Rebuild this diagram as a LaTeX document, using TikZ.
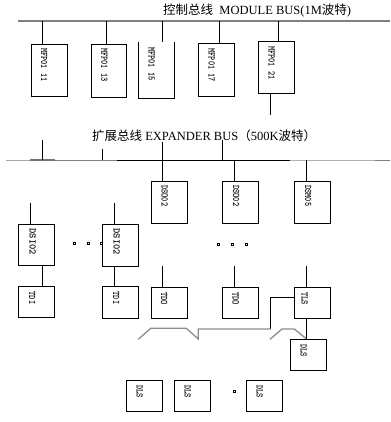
\documentclass[tikz,border=0pt]{standalone}
\usepackage{fontspec}
\setmainfont{Liberation Serif}
\newfontfamily\cjk{Noto Sans CJK SC}
\newfontfamily\lblfont{Liberation Mono}
\usetikzlibrary{calc}
\begin{document}
\begin{tikzpicture}[x=1pt,y=-1pt,
  box/.style={draw,line width=0.8pt,minimum width=36pt,inner sep=0pt,anchor=north west},
  obox/.style={minimum width=36pt,inner sep=0pt,anchor=north west},
  lbl/.style={rotate=-90,anchor=west,inner sep=0pt,font=\ttfamily\bfseries\fontsize{10}{10}\selectfont},
  wire/.style={line width=0.8pt},
  gbus/.style={draw=gray,line width=1.8pt},
  gwire/.style={draw=gray!90,line width=1.3pt},
  dot/.style={draw,line width=0.7pt,minimum size=2.2pt,inner sep=0pt},
  title/.style={anchor=west,inner sep=0pt,font=\fontsize{12.5}{14}\selectfont}]
\useasboundingbox (0,0) rectangle (390,422);
% titles
\node[title] (t1) at (163,11) {\cjk 控制总线\rmfamily\ \ MODULE BUS(1M\cjk 波特\rmfamily)};
\node[title] (t2) at (92,136) {\cjk 扩展总线\rmfamily\ EXPANDER BUS\cjk （\rmfamily 500K\cjk 波特）};
% module bus
\coordinate (mbL) at (18,21);
\coordinate (mbR) at (390,21);
\draw[gbus] (mbL) -- (mbR);
% top boxes
\node[box,minimum width=35.5pt,minimum height=52.5pt] (m1) at (31,44) {};
\node[box,minimum width=35.5pt,minimum height=53pt] (m2) at (90.7,44) {};
\node[obox,minimum height=56pt] (m3) at (138,42) {};
\draw[wire] (m3.north west) -- (m3.south west) -- (m3.south east) -- (m3.north east);
\node[box,minimum height=52.5pt] (m4) at (198.3,43.3) {};
\node[box,minimum height=52.3pt] (m5) at (258.3,41) {};
\node[lbl] (m1t) at ($(m1.north)+(-5,4)$) {\scalebox{0.8}[1]{MFP01 11}};
\node[lbl] (m2t) at ($(m2.north)+(-4.5,4)$) {\scalebox{0.8}[1]{MFP01 13}};
\node[lbl] (m3t) at ($(m3.north)+(-4.5,5)$) {\scalebox{0.8}[1]{MFP01 15}};
\node[lbl] (m4t) at ($(m4.north)+(-5,5)$) {\scalebox{0.8}[1]{MFP01 17}};
\node[lbl] (m5t) at ($(m5.north)+(-5,5)$) {\scalebox{0.8}[1]{MFP01 21}};
\coordinate (b1) at (42.3,21);
\coordinate (b2) at (106.3,21);
\coordinate (b3) at (162,21);
\coordinate (b3e) at (162,42);
\coordinate (b4) at (219,21);
\coordinate (b5) at (278.3,21);
\draw[wire] (b1) -- (b1 |- m1.north);
\draw[wire] (b2) -- (b2 |- m2.north);
\draw[wire] (b3) -- (b3e);
\draw[wire] (b4) -- (b4 |- m4.north);
\draw[wire] (b5) -- (b5 |- m5.north);
\coordinate (m5d) at (270,115);
\draw[wire] (m5d |- m5.south) -- (m5d);
% expander bus
\coordinate (ebL) at (6,160.3);
\coordinate (ebR) at (390,160.3);
\draw[line width=0.8pt] (ebL) -- (ebR);
\draw[draw=gray!70,line width=0.9pt] (6,160.3) -- (30,160.3);
\draw[draw=gray!90!black,line width=1.8pt] (30,160.3) -- (55,160.3);
\draw[draw=gray,line width=1.3pt] (55,160.3) -- (117,160.3);
\draw[draw=gray!60,line width=1.3pt] (290,160.3) -- (375,160.3);
\draw[draw=gray,line width=1.3pt] (375,160.3) -- (390,160.3);
% stubs on expander bus
\coordinate (e1) at (42.3,140);
\coordinate (e2) at (102.3,148.7);
\coordinate (e3) at (162.3,141.7);
\coordinate (e4) at (222.3,140);
\coordinate (e5) at (234.3,160.3);
\coordinate (e6) at (306.3,160.3);
\draw[wire] (e1) -- (e1 |- ebL);
\draw[wire] (e2) -- (e2 |- ebL);
\draw[wire] (e4) -- (e4 |- ebL);
% second row boxes
\node[box,minimum height=42.3pt] (o1) at (150.7,181) {};
\node[box,minimum height=42.3pt] (o2) at (222.3,181) {};
\node[box,minimum height=42.3pt] (o3) at (294.3,181) {};
\node[lbl] (o1t) at ($(o1.north)+(-4.5,4)$) {\scalebox{0.8}[1]{DSO02}};
\node[lbl] (o2t) at ($(o2.north)+(-4.5,4)$) {\scalebox{0.8}[1]{DSO02}};
\node[lbl] (o3t) at ($(o3.north)+(-4.5,4)$) {\scalebox{0.8}[1]{DSM05}};
\draw[wire] (e3) -- (e3 |- o1.north);
\draw[wire] (e5) -- (e5 |- o2.north);
\draw[wire] (e6) -- (e6 |- o3.north);
% DSI boxes
\node[box,minimum height=40.7pt] (s1) at (18.3,224.3) {};
\node[box,minimum height=42pt] (s2) at (102.3,224.3) {};
\node[lbl] (s1t) at ($(s1.north)+(-4,4)$) {\scalebox{1}[1]{DSI02}};
\node[lbl] (s2t) at ($(s2.north)+(-4,4)$) {\scalebox{1}[1]{DSI02}};
\coordinate (s1u) at (30.7,203.3);
\coordinate (s2u) at (114.3,203.3);
\draw[wire] (s1u) -- (s1u |- s1.north);
\draw[wire] (s2u) -- (s2u |- s2.north);
% bottom row boxes
\node[box,minimum height=31.3pt] (d1) at (18.3,286) {};
\node[box,minimum height=32.3pt] (d2) at (102.3,286) {};
\node[box,minimum height=31.6pt] (q1) at (150.7,286.7) {};
\node[box,minimum height=31.6pt] (q2) at (222.3,286.7) {};
\node[box,minimum height=31.6pt] (tls) at (294.3,286.7) {};
\node[lbl] (d1t) at ($(d1.north)+(-4.5,5.5)$) {\scalebox{0.8}[1]{TDI}};
\node[lbl] (d2t) at ($(d2.north)+(-4.5,5.5)$) {\scalebox{0.8}[1]{TDI}};
\node[lbl] (q1t) at ($(q1.north)+(-5,5.5)$) {\scalebox{0.8}[1]{TDO}};
\node[lbl] (q2t) at ($(q2.north)+(-5,5.5)$) {\scalebox{0.8}[1]{TDO}};
\node[lbl] (tlst) at ($(tls.north)+(-8,5.5)$) {\scalebox{0.8}[1]{TLS}};
\coordinate (s1d) at (42.3,265);
\draw[wire] (s1d |- s1.south) -- (s1d |- d1.north);
\coordinate (s2d) at (114.3,266);
\draw[wire] (s2d |- s2.south) -- (s2d |- d2.north);
\coordinate (q1u) at (162.3,265.7);
\coordinate (q2u) at (234.3,265.7);
\coordinate (tu) at (306.3,265.7);
\draw[wire] (q1u) -- (q1u |- q1.north);
\draw[wire] (q2u) -- (q2u |- q2.north);
\draw[wire] (tu) -- (tu |- tls.north);
% DLS boxes
\node[box,minimum height=31pt] (dl0) at (290.3,339.3) {};
\node[box,minimum height=30.7pt] (dl1) at (126.3,380.3) {};
\node[box,minimum height=30.7pt] (dl2) at (174.3,380.3) {};
\node[box,minimum height=30.7pt] (dl3) at (246.3,380.3) {};
\node[lbl] (dl0t) at ($(dl0.north)+(-5,5)$) {\scalebox{0.8}[1]{DLS}};
\node[lbl] (dl1t) at ($(dl1.north)+(-5,5)$) {\scalebox{0.8}[1]{DLS}};
\node[lbl] (dl2t) at ($(dl2.north)+(-5,5)$) {\scalebox{0.8}[1]{DLS}};
\node[lbl] (dl3t) at ($(dl3.north)+(-5,5)$) {\scalebox{0.8}[1]{DLS}};
\coordinate (td) at (306.3,318);
\draw[wire] (td |- tls.south) -- (td |- dl0.north);
% TLS left link and bracket
\coordinate (k1) at (270.3,297.3);
\coordinate (k2) at (270.3,329);
\draw[wire] (tls.west |- k1) -- (k1) -- (k2);
\draw[gwire,line join=miter] (138.3,339.3) -- (150.7,328.3) -- (186.3,328.3) -- (198.3,339) -- (198.3,329) -- (k2);
\draw[gwire] (270,339.3) -- (282,329) -- (294.3,329) -- (305.7,338.3);
% dots
\node[dot] (p1) at (74.3,243.7) {};
\node[dot] (p2) at (88.3,243.7) {};
\node[dot] (p3) at (101.7,243.7) {};
\node[dot] (p4) at (218.3,244) {};
\node[dot] (p5) at (232.3,244) {};
\node[dot] (p6) at (246.3,244) {};
\node[dot] (p7) at (234.3,391) {};
\end{tikzpicture}
\end{document}
